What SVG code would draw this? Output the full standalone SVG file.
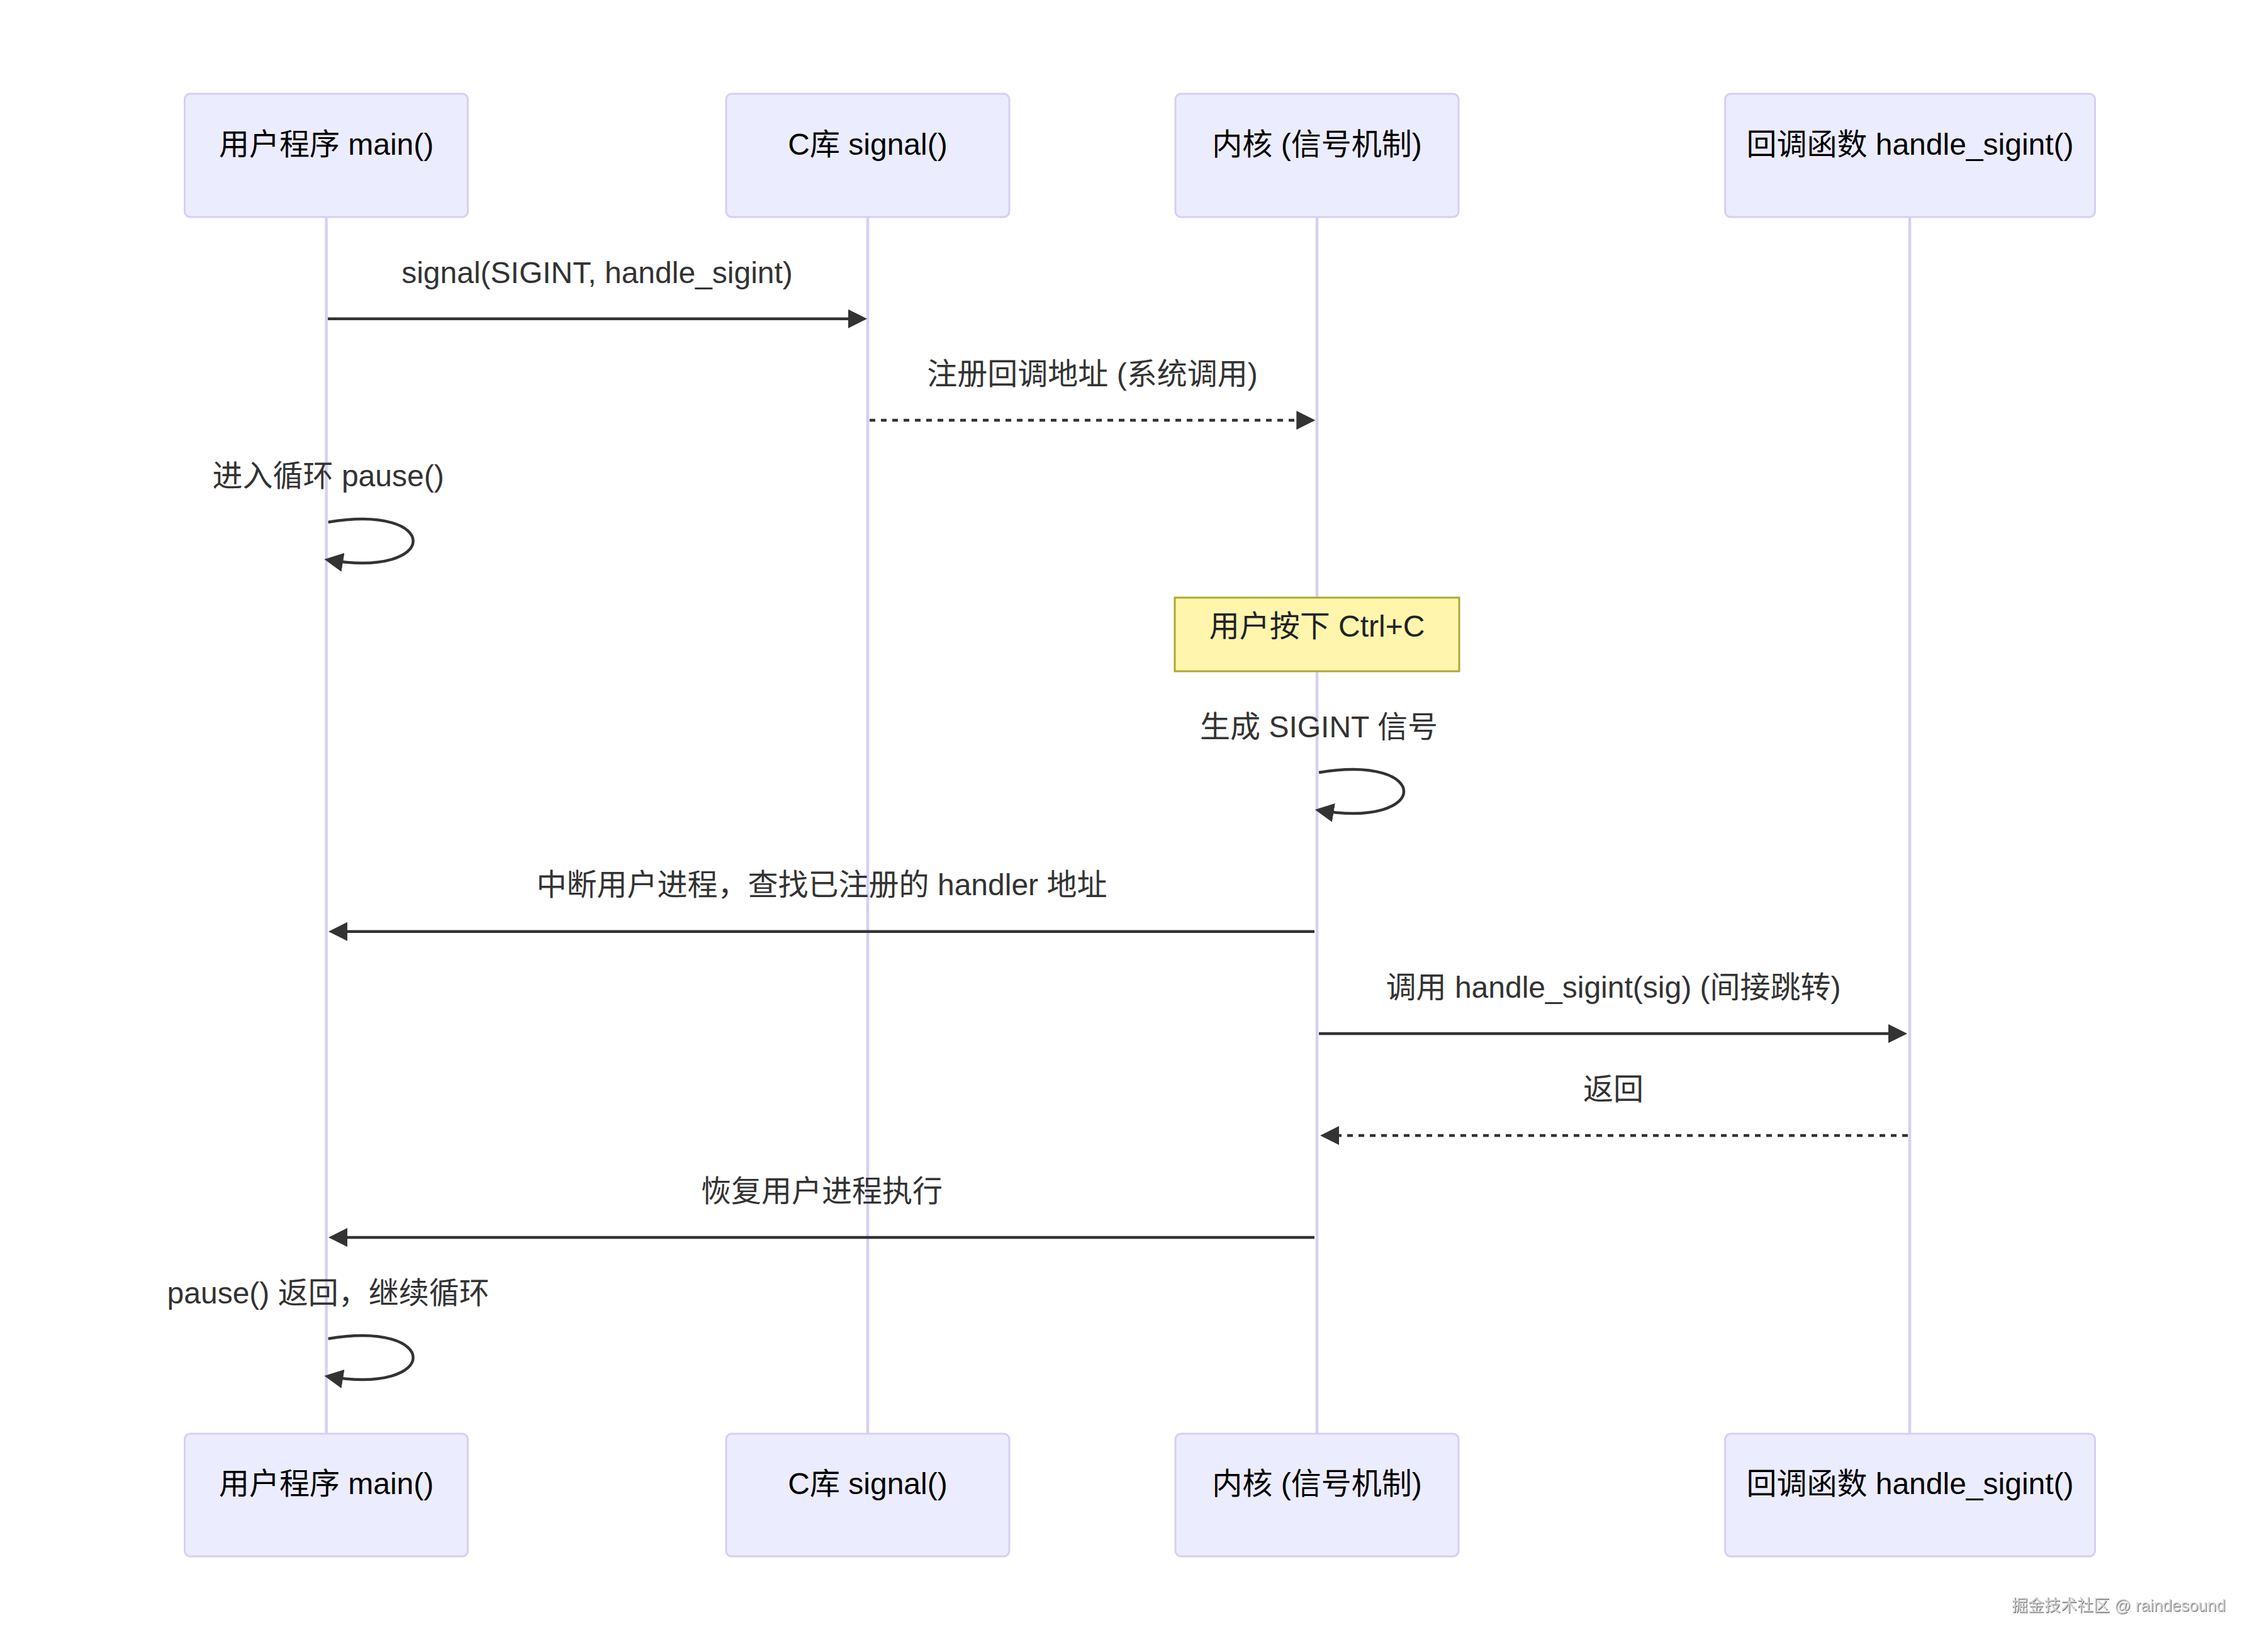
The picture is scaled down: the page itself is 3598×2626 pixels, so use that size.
<svg xmlns="http://www.w3.org/2000/svg" width="3598" height="2626" viewBox="0 0 3598 2626">
<defs>
<style>
.actor rect{fill:#ECECFF;stroke:#D7CEF3;stroke-width:3}
.actor text{font-family:"Liberation Sans","Noto Sans CJK SC",sans-serif;font-size:48px;fill:#000;text-anchor:middle}
.lifeline{stroke:#D7CEF3;stroke-width:4.5}
.msg{stroke:#333;stroke-width:4.5;fill:none}
.dashed{stroke-dasharray:9 9}
.lbl{font-family:"Liberation Sans","Noto Sans CJK SC",sans-serif;font-size:48px;fill:#333;text-anchor:middle}
.note rect{fill:#FFF5AD;stroke:#AAAA33;stroke-width:3}
.note text{font-family:"Liberation Sans","Noto Sans CJK SC",sans-serif;font-size:48px;fill:#222;text-anchor:middle}
.wm{font-family:"Liberation Sans","Noto Sans CJK SC",sans-serif;font-size:26px;fill:#d4d4d4;text-anchor:end}
</style>
<marker id="arrowhead" markerUnits="userSpaceOnUse" markerWidth="36" markerHeight="36" viewBox="0 0 12 12" refX="7.9" refY="5" orient="auto">
<path d="M 0 0 L 10 5 L 0 10 z" fill="#333"/>
</marker>
<filter id="emboss" x="-5%" y="-30%" width="110%" height="160%">
<feDropShadow dx="1" dy="1.2" stdDeviation="0.6" flood-color="#555" flood-opacity="0.9"/>
</filter>
</defs>
<rect x="0" y="0" width="3598" height="2626" fill="#fff"/>

<g id="lifelines">
<line class="lifeline" x1="518.6" y1="345" x2="518.6" y2="2279"/>
<line class="lifeline" x1="1379" y1="345" x2="1379" y2="2279"/>
<line class="lifeline" x1="2093" y1="345" x2="2093" y2="2279"/>
<line class="lifeline" x1="3035" y1="345" x2="3035" y2="2279"/>
</g>

<g id="actor-main-top" class="actor"><rect x="293.5" y="149" width="450" height="196" rx="9"/><text x="518.6" y="246">用户程序 main()</text></g>
<g id="actor-signal-top" class="actor"><rect x="1154" y="149" width="450" height="196" rx="9"/><text x="1379" y="246">C库 signal()</text></g>
<g id="actor-kernel-top" class="actor"><rect x="1868" y="149" width="450" height="196" rx="9"/><text x="2093" y="246">内核 (信号机制)</text></g>
<g id="actor-handler-top" class="actor"><rect x="2741.5" y="149" width="588" height="196" rx="9"/><text x="3035.5" y="246">回调函数 handle_sigint()</text></g>

<g id="actor-main-bottom" class="actor"><rect x="293.5" y="2279" width="450" height="195" rx="9"/><text x="518.6" y="2375">用户程序 main()</text></g>
<g id="actor-signal-bottom" class="actor"><rect x="1154" y="2279" width="450" height="195" rx="9"/><text x="1379" y="2375">C库 signal()</text></g>
<g id="actor-kernel-bottom" class="actor"><rect x="1868" y="2279" width="450" height="195" rx="9"/><text x="2093" y="2375">内核 (信号机制)</text></g>
<g id="actor-handler-bottom" class="actor"><rect x="2741.5" y="2279" width="588" height="195" rx="9"/><text x="3035.5" y="2375">回调函数 handle_sigint()</text></g>

<g id="note-ctrlc" class="note"><rect x="1867" y="950" width="452" height="117"/><text x="2093" y="1012">用户按下 Ctrl+C</text></g>

<g id="connectors">
<line class="msg" x1="521" y1="506.7" x2="1371.7" y2="506.7" marker-end="url(#arrowhead)"/>
<text class="lbl" x="949" y="450">signal(SIGINT, handle_sigint)</text>

<line class="msg dashed" x1="1382" y1="668" x2="2084" y2="668" marker-end="url(#arrowhead)"/>
<text class="lbl" x="1736" y="611">注册回调地址 (系统调用)</text>

<path class="msg" d="M 521.6 830 C 701.6 800 701.6 920 521.6 890" marker-end="url(#arrowhead)"/>
<text class="lbl" x="521.6" y="773">进入循环 pause()</text>

<path class="msg" d="M 2096 1228 C 2276 1198 2276 1318 2096 1288" marker-end="url(#arrowhead)"/>
<text class="lbl" x="2096" y="1172">生成 SIGINT 信号</text>

<line class="msg" x1="2089" y1="1480.7" x2="528.3" y2="1480.7" marker-end="url(#arrowhead)"/>
<text class="lbl" x="1306" y="1423">中断用户进程，查找已注册的 handler 地址</text>

<line class="msg" x1="2096" y1="1643" x2="3024.7" y2="1643" marker-end="url(#arrowhead)"/>
<text class="lbl" x="2564" y="1586">调用 handle_sigint(sig) (间接跳转)</text>

<line class="msg dashed" x1="3032" y1="1805" x2="2104.3" y2="1805" marker-end="url(#arrowhead)"/>
<text class="lbl" x="2564" y="1748">返回</text>

<line class="msg" x1="2089" y1="1967" x2="528.3" y2="1967" marker-end="url(#arrowhead)"/>
<text class="lbl" x="1306" y="1910">恢复用户进程执行</text>

<path class="msg" d="M 521.6 2128 C 701.6 2098 701.6 2218 521.6 2188" marker-end="url(#arrowhead)"/>
<text class="lbl" x="521.6" y="2072">pause() 返回，继续循环</text>
</g>

<text class="wm" x="3537" y="2561" filter="url(#emboss)">掘金技术社区 @ raindesound</text>
</svg>
